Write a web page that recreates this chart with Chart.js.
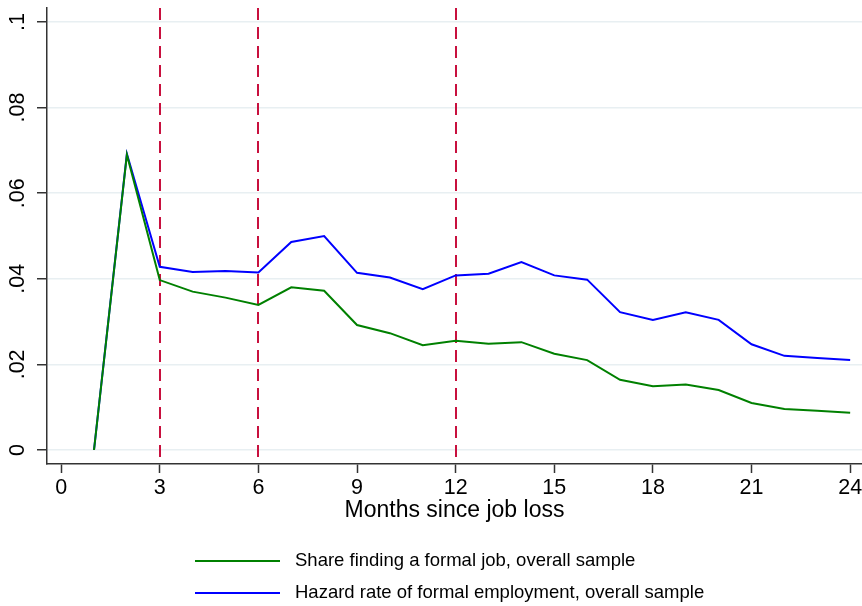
<!DOCTYPE html>
<html>
<head>
<meta charset="utf-8">
<script src="https://cdn.jsdelivr.net/npm/chart.js@4"></script>
<style>
  body { margin: 0; background: #fff; }
  canvas { display: block; }
</style>
</head>
<body>
<canvas id="hazardChart" width="862" height="606"></canvas>
<script>
// Data
const months = [1, 2, 3, 4, 5, 6, 7, 8, 9, 10, 11, 12, 13, 14, 15, 16, 17, 18, 19, 20, 21, 22, 23, 24];
const shareFormal = [0, 0.0690, 0.0397, 0.0370, 0.0356, 0.0339, 0.0380, 0.0372, 0.0292, 0.0273, 0.0245, 0.0255,
  0.0248, 0.0252, 0.0225, 0.0210, 0.0164, 0.0149, 0.0153, 0.0140, 0.0110, 0.0096, 0.0092, 0.0087];
const hazardRate = [0, 0.0692, 0.0428, 0.0416, 0.0418, 0.0415, 0.0486, 0.0500, 0.0414, 0.0403, 0.0376, 0.0408,
  0.0412, 0.0439, 0.0408, 0.0398, 0.0322, 0.0304, 0.0322, 0.0304, 0.0247, 0.0220, 0.0215, 0.0210];
const seriesLabels = ['Share finding a formal job, overall sample', 'Hazard rate of formal employment, overall sample'];
const xTicks = [0, 3, 6, 9, 12, 15, 18, 21, 24];
const yTicks = [0, 0.02, 0.04, 0.06, 0.08, 0.1];
const yTickLabels = ['0', '.02', '.04', '.06', '.08', '.1'];
const markerMonths = [3, 6, 12];

Chart.defaults.font.family = '"Liberation Sans", Arial, sans-serif';
Chart.defaults.color = '#000';

const toPoints = vals => months.map((m, i) => ({ x: m, y: vals[i] }));

// Dashed vertical reference lines
const vLines = {
  id: 'vLines',
  beforeDatasetsDraw(chart) {
    const { ctx, chartArea, scales } = chart;
    ctx.save();
    ctx.strokeStyle = '#c8103e';
    ctx.lineWidth = 2;
    ctx.setLineDash([12, 7]);
    markerMonths.forEach(m => {
      const x = Math.round(scales.x.getPixelForValue(m));
      ctx.beginPath();
      ctx.moveTo(x, chartArea.top);
      ctx.lineTo(x, chartArea.bottom);
      ctx.stroke();
    });
    ctx.restore();
  }
};

// Rotated y tick labels (Stata style)
const yLabels = {
  id: 'yLabels',
  afterDraw(chart) {
    const { ctx, scales } = chart;
    ctx.save();
    ctx.font = '21.5px "Liberation Sans", Arial, sans-serif';
    ctx.fillStyle = '#000';
    ctx.textAlign = 'center';
    ctx.textBaseline = 'middle';
    yTicks.forEach((v, i) => {
      const y = scales.y.getPixelForValue(v);
      ctx.save();
      ctx.translate(18, y);
      ctx.rotate(-Math.PI / 2);
      ctx.fillText(yTickLabels[i], 0, 0);
      ctx.restore();
    });
    ctx.restore();
  }
};

// Legend stacked below the axis title
const stackedLegend = {
  id: 'stackedLegend',
  afterDraw(chart) {
    const { ctx } = chart;
    ctx.save();
    ctx.font = '18.5px "Liberation Sans", Arial, sans-serif';
    ctx.textBaseline = 'middle';
    chart.data.datasets.forEach((ds, i) => {
      const y = 561 + i * 32;
      ctx.strokeStyle = ds.borderColor;
      ctx.lineWidth = 2;
      ctx.beginPath();
      ctx.moveTo(195, y);
      ctx.lineTo(280, y);
      ctx.stroke();
      ctx.fillStyle = '#000';
      ctx.fillText(ds.label, 295, y);
    });
    ctx.restore();
  }
};

new Chart(document.getElementById('hazardChart'), {
  type: 'line',
  data: {
    datasets: [
      { label: seriesLabels[0], data: toPoints(shareFormal), borderColor: '#008000', borderWidth: 2, pointRadius: 0, tension: 0 },
      { label: seriesLabels[1], data: toPoints(hazardRate), borderColor: '#0000ff', borderWidth: 2, pointRadius: 0, tension: 0 }
    ]
  },
  options: {
    responsive: false,
    animation: false,
    devicePixelRatio: 1,
    layout: { padding: { left: 0, right: 0, top: 8, bottom: 82 } },
    plugins: { legend: { display: false }, tooltip: { enabled: false } },
    scales: {
      x: {
        type: 'linear',
        min: -0.43,
        max: 24.36,
        afterBuildTicks: s => { s.ticks = xTicks.map(v => ({ value: v })); },
        afterFit: s => { s.height = 60; s.paddingLeft = 0; s.paddingRight = 0; },
        ticks: { font: { size: 21.5 }, padding: 2, maxRotation: 0, autoSkip: false },
        grid: { drawOnChartArea: false, drawTicks: true, tickLength: 9, tickColor: '#333', tickWidth: 1.5 },
        border: { display: true, color: '#333', width: 1.5 },
        title: { display: true, text: 'Months since job loss', font: { size: 23 }, padding: { top: 0, bottom: 0 } }
      },
      y: {
        min: -0.00327,
        max: 0.10327,
        afterBuildTicks: s => { s.ticks = yTicks.map(v => ({ value: v })); },
        afterFit: s => { s.width = 47; s.paddingTop = 0; s.paddingBottom = 0; },
        ticks: { display: false },
        grid: { color: '#e8eff2', lineWidth: 1.5, drawTicks: true, tickLength: 10, tickColor: '#333', tickWidth: 1.5 },
        border: { display: true, color: '#333', width: 1.5 }
      }
    }
  },
  plugins: [vLines, yLabels, stackedLegend]
});
</script>
</body>
</html>
